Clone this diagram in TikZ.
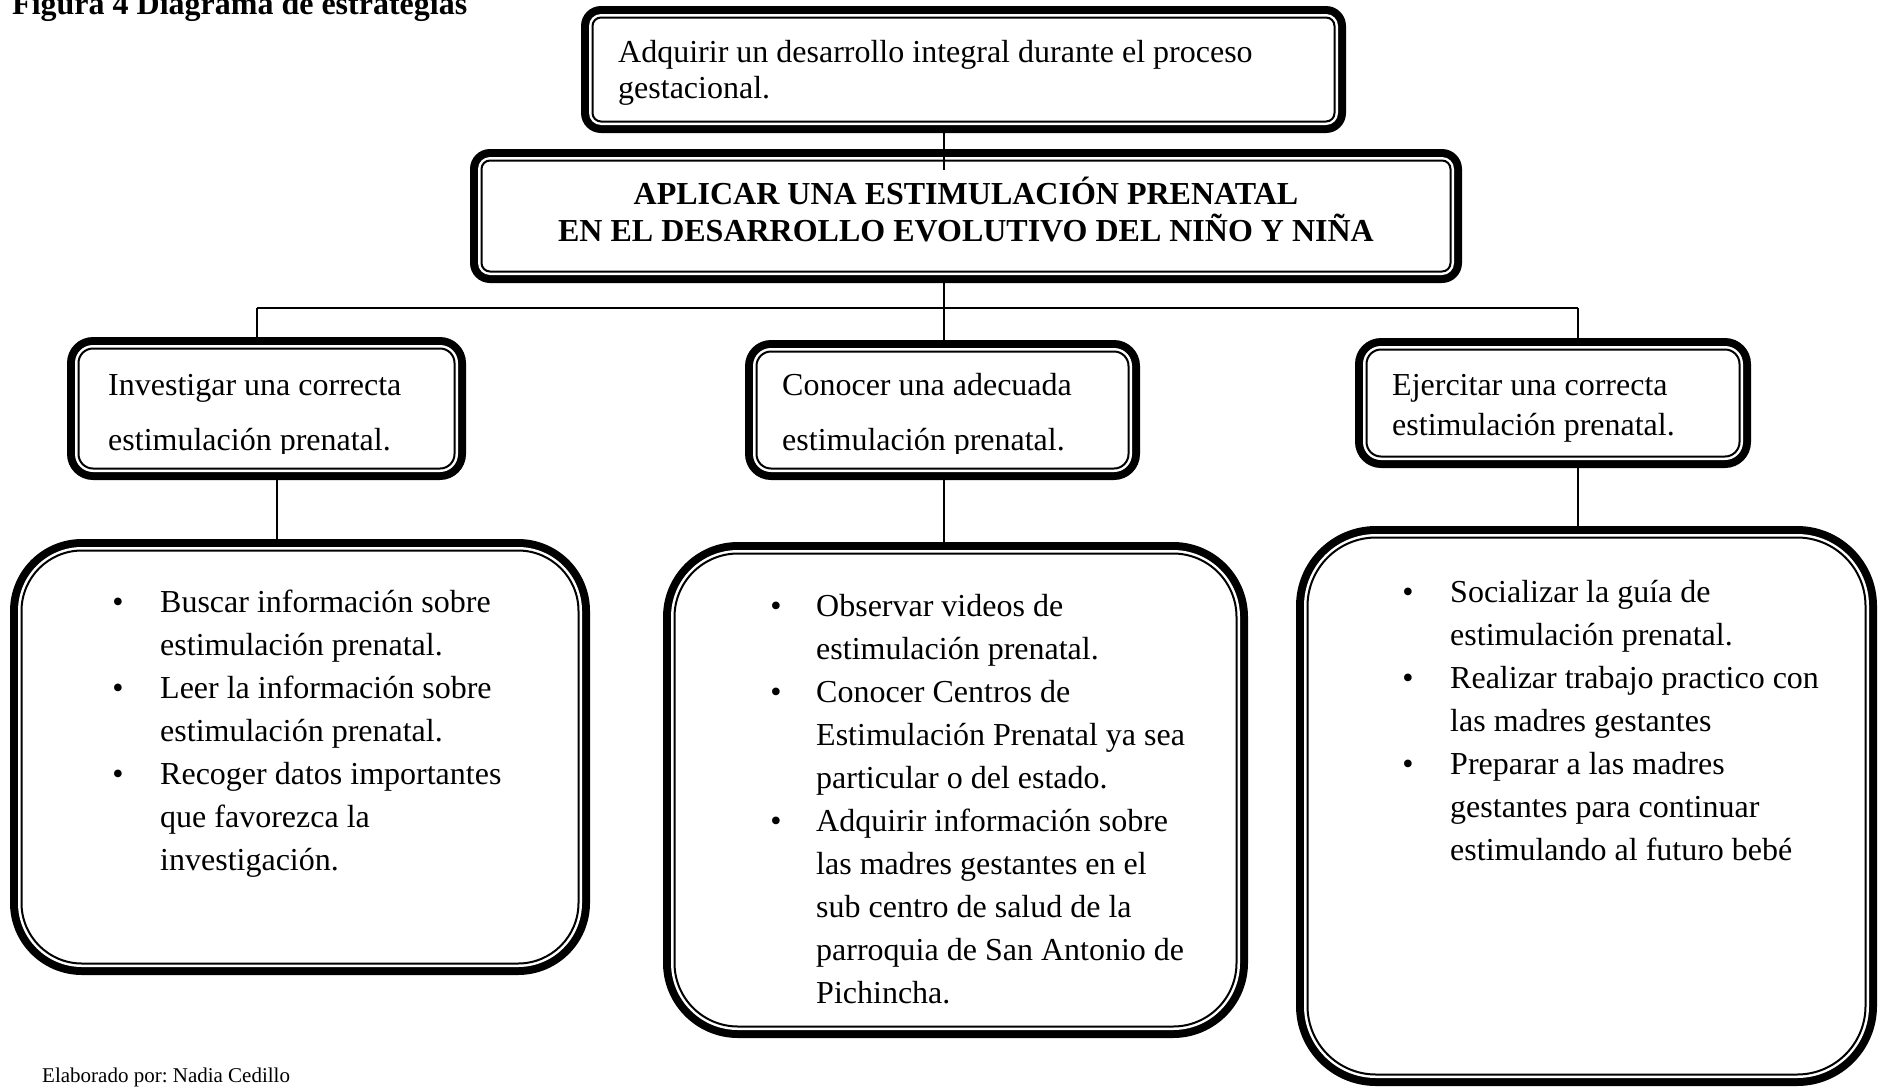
\documentclass[tikz,border=0pt]{standalone}
\usepackage{fontspec}
\setmainfont{Liberation Serif}
\frenchspacing
\begin{document}
\begin{tikzpicture}[x=1pt,y=1pt,
  frame/.style={fill=black, draw=none, rounded corners=#1, inner sep=0pt, outer sep=0pt,
    path picture={
      \fill[white, rounded corners=#1-8pt]
        ([shift={(8pt,8pt)}]path picture bounding box.south west) rectangle
        ([shift={(-8pt,-8pt)}]path picture bounding box.north east);
      \draw[black, line width=2pt, rounded corners=#1-11.5pt]
        ([shift={(11.5pt,11.5pt)}]path picture bounding box.south west) rectangle
        ([shift={(-11.5pt,-11.5pt)}]path picture bounding box.north east);
    }},
  txt/.style={anchor=base west, inner sep=0pt, font=\fontsize{32}{36}\selectfont},
  btxt/.style={anchor=base, inner sep=0pt, font=\fontsize{32}{36}\selectfont\bfseries},
  bul/.style={anchor=base, inner sep=0pt, font=\fontsize{32}{36}\selectfont},
  conn/.style={line width=1.5pt, black}
]
\useasboundingbox (0,0) rectangle (1881,-1087);
\clip (0,0) rectangle (1881,-1087);

% title
\node[txt, font=\fontsize{32}{36}\selectfont\bfseries] (title) at (12,-14) {Figura 4 Diagrama de estrategias};

% frames
\node[frame=20pt, minimum width=765pt, minimum height=127pt] (b1) at (963.5,-69.5) {};
\node[frame=20pt, minimum width=992pt, minimum height=134pt] (b2) at (966,-216) {};
\node[frame=26pt, minimum width=399pt, minimum height=143pt] (bA) at (266.5,-408.5) {};
\node[frame=26pt, minimum width=395pt, minimum height=140pt] (bB) at (942.5,-410) {};
\node[frame=26pt, minimum width=396pt, minimum height=130pt] (bC) at (1553,-403) {};
\node[frame=72pt, minimum width=580pt, minimum height=436pt] (bD) at (300,-757) {};
\node[frame=75pt, minimum width=585pt, minimum height=496pt] (bE) at (955.5,-790) {};
\node[frame=80pt, minimum width=581pt, minimum height=560pt] (bF) at (1586.5,-806) {};

% connectors
\coordinate (busL) at (257,-308);
\coordinate (busM) at (944,-308);
\coordinate (busR) at (1578,-308);
\coordinate (stub) at (944,-170);
\draw[conn] (stub |- b1.south) -- (stub);
\draw[conn] (busM |- b2.south) -- (busM);
\draw[conn] (busL) -- (busR);
\draw[conn] (busL) -- (busL |- bA.north);
\draw[conn] (busM) -- (busM |- bB.north);
\draw[conn] (busR) -- (busR |- bC.north);
\coordinate (dA) at (277,-500);
\draw[conn] (dA |- bA.south) -- (dA |- bD.north);
\draw[conn] (busM |- bB.south) -- (busM |- bE.north);
\draw[conn] (busR |- bC.south) -- (busR |- bF.north);

% box 1 text
\node[txt] (t1a) at (618,-62) {Adquirir un desarrollo integral durante el proceso};
\node[txt] (t1b) at (618,-98) {gestacional.};

% box 2 text
\node[btxt] (t2a) at (966,-204) {APLICAR UNA ESTIMULACIÓN PRENATAL};
\node[btxt] (t2b) at (966,-241) {EN EL DESARROLLO EVOLUTIVO DEL NIÑO Y NIÑA};

% boxes A, B, C
\node[txt] (tAa) at (108,-395) {Investigar una correcta};
\node[txt] (tBa) at (782,-395) {Conocer una adecuada};
\begin{scope}
\clip (0,-300) rectangle (1881,-453);
\node[txt] (tAb) at (108,-450) {estimulación prenatal.};
\node[txt] (tBb) at (782,-450) {estimulación prenatal.};
\end{scope}
\node[txt] (tCa) at (1392,-395) {Ejercitar una correcta};
\node[txt] (tCb) at (1392,-435) {estimulación prenatal.};

% box D list
\foreach \t [count=\i from 0] in {Buscar información sobre,estimulación prenatal.,Leer la información sobre,estimulación prenatal.,Recoger datos importantes,que favorezca la,investigación.}
  \node[txt] (tD\i) at (160,-612-43*\i) {\t};
\foreach \i in {0,2,4}
  \node[bul] (uD\i) at (118,-612-43*\i) {•};

% box E list
\foreach \t [count=\i from 0] in {Observar videos de,estimulación prenatal.,Conocer Centros de,Estimulación Prenatal ya sea,particular o del estado.,Adquirir información sobre,las madres gestantes en el,sub centro de salud de la,parroquia de San Antonio de,Pichincha.}
  \node[txt] (tE\i) at (816,-616-43*\i) {\t};
\foreach \i in {0,2,5}
  \node[bul] (uE\i) at (776,-616-43*\i) {•};

% box F list
\foreach \t [count=\i from 0] in {Socializar la guía de,estimulación prenatal.,Realizar trabajo practico con,las madres gestantes,Preparar a las madres,gestantes para continuar,estimulando al futuro bebé}
  \node[txt] (tF\i) at (1450,-602-43*\i) {\t};
\foreach \i in {0,2,4}
  \node[bul] (uF\i) at (1408,-602-43*\i) {•};

% footer
\node[txt, font=\fontsize{21}{24}\selectfont] (foot) at (42,-1082) {Elaborado por: Nadia Cedillo};
\end{tikzpicture}
\end{document}
